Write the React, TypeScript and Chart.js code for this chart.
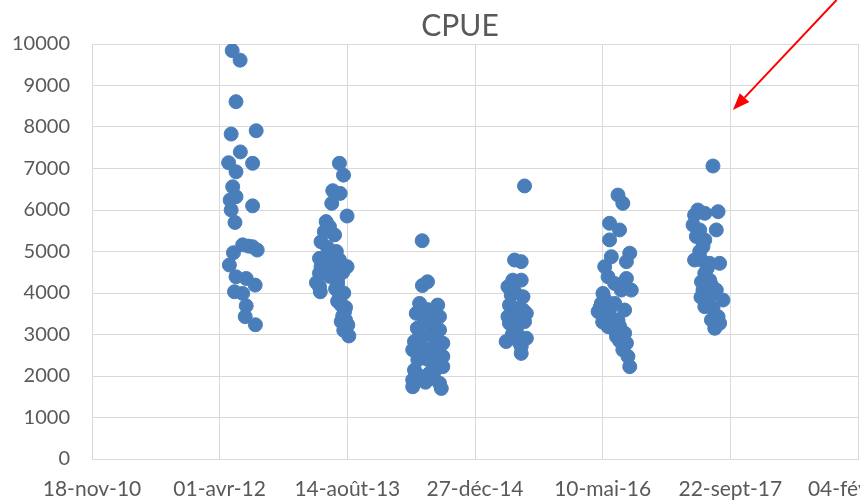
import React, { useEffect, useRef } from 'react';
import { Chart, registerables } from 'chart.js';

Chart.register(...registerables);

// x values are spreadsheet date serials (days since 1899-12-30)
const xTickLabels = ['18-nov-10', '01-avr-12', '14-août-13', '27-déc-14', '10-mai-16', '22-sept-17', '04-févr-19'];
const xStart = 40500;
const xStep = 500;
const yMin = 0;
const yMax = 10000;
const yStep = 1000;

const campaign2012: [number, number][] = [
  [41049, 9840], [41080, 9610], [41064, 8610], [41045, 7830], [41143, 7910], [41081, 7400],
  [41035, 7140], [41129, 7125], [41064, 6920], [41051, 6560], [41041, 6240], [41064, 6320],
  [41045, 6000], [41129, 6100], [41060, 5700], [41090, 5160], [41112, 5130], [41129, 5115],
  [41147, 5035], [41054, 4970], [41038, 4675], [41064, 4390], [41104, 4350], [41139, 4190],
  [41058, 4030], [41090, 3990], [41104, 3690], [41100, 3430], [41140, 3235],
];

const campaign2013: [number, number][] = [
  [41469, 7125], [41485, 6840], [41443, 6465], [41472, 6400], [41439, 6160], [41499, 5855],
  [41417, 5720], [41410, 5480], [41397, 5235], [41391, 4835], [41397, 4635], [41499, 4635],
  [41391, 4475], [41391, 4150], [41394, 4030], [41462, 4230], [41469, 3910], [41476, 3710],
  [41489, 3550], [41476, 3310], [41502, 3230], [41506, 2965], [41430, 5600], [41450, 5400],
  [41422, 5100], [41457, 5000], [41430, 4900], [41469, 4800], [41415, 4700], [41450, 4600],
  [41482, 4500], [41430, 4400], [41462, 4350], [41454, 4100], [41486, 4000], [41462, 3800],
  [41493, 3650], [41482, 3450], [41493, 3350], [41486, 3100], [41379, 4250],
];

const campaign2014: [number, number][] = [
  [41793, 5260], [41794, 4180], [41814, 4270], [41783, 3750], [41854, 3710], [41770, 3510],
  [41861, 3430], [41835, 3270], [41861, 3110], [41783, 2950], [41763, 2830], [41874, 2790],
  [41756, 2630], [41802, 2590], [41874, 2470], [41776, 2390], [41835, 2350], [41763, 2145],
  [41874, 2225], [41822, 2065], [41756, 1905], [41861, 1825], [41756, 1740], [41868, 1700],
  [41814, 3600], [41830, 3450], [41802, 3300], [41774, 3150], [41822, 3000], [41846, 2900],
  [41790, 2750], [41830, 2650], [41853, 2550], [41783, 2500], [41814, 2400], [41846, 2150],
  [41783, 2000], [41806, 1850], [41838, 1950],
];

const campaign2015: [number, number][] = [
  [42194, 6580], [42155, 4795], [42181, 4755], [42148, 4310], [42181, 4310], [42129, 4150],
  [42155, 4030], [42188, 3910], [42135, 3710], [42168, 3630], [42188, 3590], [42129, 3430],
  [42201, 3510], [42135, 3270], [42194, 3310], [42162, 3110], [42122, 2830], [42162, 2950],
  [42201, 2910], [42181, 2710], [42181, 2545], [42142, 3950], [42174, 3400], [42146, 3000],
  [42174, 2800],
];

const campaign2016: [number, number][] = [
  [42560, 6360], [42579, 6160], [42527, 5680], [42566, 5520], [42527, 5280], [42534, 4875],
  [42606, 4960], [42593, 4755], [42508, 4635], [42521, 4390], [42593, 4350], [42547, 4230],
  [42612, 4070], [42501, 3990], [42573, 4070], [42495, 3750], [42547, 3750], [42482, 3550],
  [42586, 3590], [42508, 3430], [42560, 3350], [42521, 3190], [42586, 3030], [42554, 2950],
  [42593, 2790], [42579, 2630], [42599, 2470], [42606, 2225], [42490, 3650], [42527, 3600],
  [42534, 3400], [42500, 3300], [42547, 3100], [42566, 2850], [42508, 3850], [42566, 3200],
];

const campaign2017: [number, number][] = [
  [42932, 7060], [42873, 6000], [42860, 5880], [42900, 5920], [42952, 5960], [42854, 5640],
  [42880, 5520], [42945, 5520], [42867, 5360], [42900, 5280], [42893, 5115], [42860, 4795],
  [42887, 4795], [42958, 4715], [42919, 4715], [42900, 4475], [42887, 4270], [42919, 4310],
  [42893, 4070], [42945, 4070], [42919, 3910], [42971, 3830], [42900, 3670], [42932, 3630],
  [42952, 3430], [42926, 3350], [42939, 3150], [42958, 3270], [42880, 5000], [42910, 4600],
  [42925, 4200], [42885, 3900],
];

// annotation arrow (start and tip in chart value space)
const arrowFrom = { x: 43416, y: 11060 };
const arrowTo = { x: 43010, y: 8410 };

const FONT = 'Lato, "Open Sans", sans-serif';
const TEXT = '#595959';
const GRID = '#d9d9d9';
const POINT = '#4a7ebb';

const arrowPlugin = {
  id: 'arrowAnnot',
  afterDraw(chart: any) {
    const { ctx, scales } = chart;
    const x1 = scales.x.getPixelForValue(arrowFrom.x);
    const y1 = scales.y.getPixelForValue(arrowFrom.y);
    const x2 = scales.x.getPixelForValue(arrowTo.x);
    const y2 = scales.y.getPixelForValue(arrowTo.y);
    const dx = x2 - x1;
    const dy = y2 - y1;
    const len = Math.hypot(dx, dy);
    const ux = dx / len;
    const uy = dy / len;
    const headLen = 17;
    const headHalf = 6.5;
    const bx = x2 - ux * headLen;
    const by = y2 - uy * headLen;
    ctx.save();
    ctx.strokeStyle = '#ff0000';
    ctx.fillStyle = '#ff0000';
    ctx.lineWidth = 2;
    ctx.beginPath();
    ctx.moveTo(x1, y1);
    ctx.lineTo(bx, by);
    ctx.stroke();
    ctx.beginPath();
    ctx.moveTo(x2, y2);
    ctx.lineTo(bx - uy * headHalf, by + ux * headHalf);
    ctx.lineTo(bx + uy * headHalf, by - ux * headHalf);
    ctx.closePath();
    ctx.fill();
    ctx.restore();
  },
};

export default function App() {
  const ref = useRef<HTMLCanvasElement | null>(null);

  useEffect(() => {
    if (!ref.current) return;
    const all = [...campaign2012, ...campaign2013, ...campaign2014, ...campaign2015, ...campaign2016, ...campaign2017];
    const chart = new Chart(ref.current, {
      type: 'scatter',
      data: {
        datasets: [
          {
            label: 'CPUE',
            data: all.map(([x, y]) => ({ x, y })),
            backgroundColor: POINT,
            borderColor: POINT,
            pointRadius: 7,
            pointBorderWidth: 1,
            pointHoverRadius: 7,
          },
        ],
      },
      options: {
        animation: false,
        responsive: false,
        layout: { padding: { left: 0, right: 0, top: 1, bottom: 3 } },
        plugins: {
          legend: { display: false },
          tooltip: { enabled: false },
          title: {
            display: true,
            text: 'CPUE',
            color: TEXT,
            font: { family: FONT, size: 30, weight: 'normal', lineHeight: 1.0 },
            padding: { top: 10, bottom: 3 },
          },
        },
        scales: {
          x: {
            type: 'linear',
            min: xStart,
            max: xStart + xStep * (xTickLabels.length - 1),
            grid: { color: GRID, drawTicks: false },
            border: { color: GRID },
            ticks: {
              stepSize: xStep,
              autoSkip: false,
              maxRotation: 0,
              padding: 18,
              color: TEXT,
              font: { family: FONT, size: 21 },
              callback: (v: any) => xTickLabels[Math.round((Number(v) - xStart) / xStep)] ?? '',
            },
            afterFit: (scale: any) => {
              scale.paddingLeft = 0;
              scale.paddingRight = 62;
              scale.height = 42;
            },
          },
          y: {
            min: yMin,
            max: yMax,
            grid: { color: GRID, drawTicks: false },
            border: { color: GRID },
            ticks: {
              stepSize: yStep,
              padding: 22,
              color: TEXT,
              font: { family: FONT, size: 20 },
              callback: (v: any) => String(v),
            },
            afterFit: (scale: any) => {
              scale.width = 92;
              scale.paddingTop = 0;
              scale.paddingBottom = 0;
            },
          },
        },
      },
      plugins: [arrowPlugin],
    });
    return () => chart.destroy();
  }, []);

  return (
    <div style={{ position: 'fixed', left: 0, top: 0, width: 860, height: 504, overflow: 'hidden', background: '#fff' }}>
      <canvas ref={ref} width={920} height={504} style={{ display: 'block' }} />
    </div>
  );
}
